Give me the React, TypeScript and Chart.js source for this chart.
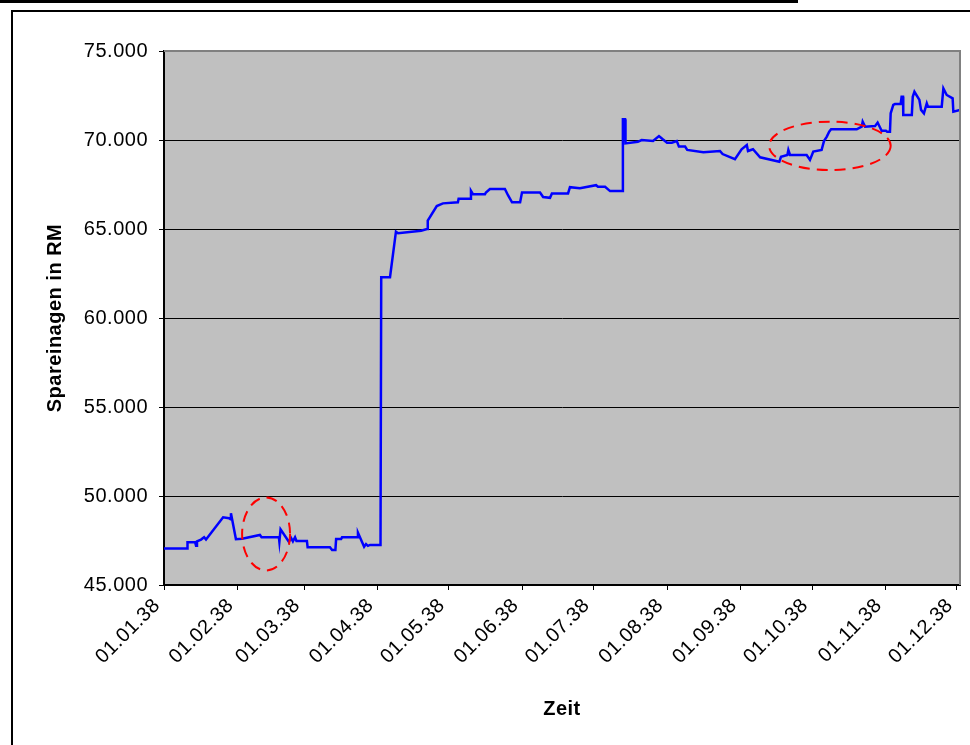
import React, { useEffect, useRef } from "react";
import { Chart, registerables } from "chart.js";

Chart.register(...registerables);

// Day of year 1938 (0 = 01.01.38)
const days: number[] = [
  0, 9.7, 9.9, 13.1, 13.5, 13.9, 15.6, 16.9, 17.7, 24.9, 27.4, 28.0, 28.2, 30.3, 32.9, 40.4, 41.1,
  48.4, 48.6, 49.1, 52.6, 53.5, 54.3, 55.2, 55.8, 60.2, 60.5, 69.9, 70.8, 72.2, 72.5, 74.6, 75.0,
  81.5, 81.7, 84.3, 85.1, 85.9, 86.8, 91.2, 91.5, 95.2, 97.7, 98.6, 108.3, 110.8, 111.1, 114.9,
  117.5, 123.8, 124.1, 128.9, 129.3, 130.2, 135.2, 135.6, 137.3, 143.6, 144.9, 146.6, 150.0, 150.8,
  158.4, 159.7, 162.6, 163.4, 170.2, 171.0, 175.2, 182.0, 182.8, 185.8, 187.9, 193.0, 193.3, 194.2,
  194.4, 199.6, 201.2, 206.0, 208.5, 210.1, 211.9, 213.9, 216.0, 216.9, 219.5, 220.4, 227.2, 234.2,
  235.3, 240.5, 243.3, 245.5, 246.0, 248.1, 251.1, 259.2, 259.9, 262.6, 263.0, 263.7, 270.7, 272.1,
  273.5, 277.0, 278.0, 279.2, 280.2, 281.0, 291.8, 293.9, 294.3, 295.3, 299.5, 300.6, 302.3, 304.1,
  304.6, 305.8, 306.1, 307.2, 307.9, 310.3, 310.7, 311.3, 311.4, 315.0, 315.4, 316.1, 318.2, 318.9,
  320.1, 321.3, 321.8, 327.6, 328.3, 329.7, 332.2, 332.5, 335.3,
];

// Spareinlagen in RM
const savings: number[] = [
  47050, 47050, 47400, 47400, 47200, 47450, 47550, 47680, 47550, 48800, 48750, 48700, 49030, 47570, 47600, 47810, 47680,
  47680, 47430, 48130, 47430, 47650, 47450, 47680, 47470, 47470, 47120, 47120, 46970, 46970, 47580, 47580, 47680,
  47680, 47940, 47150, 47300, 47200, 47250, 47250, 62290, 62290, 64850, 64760, 64900, 65000, 65470, 66290,
  66440, 66500, 66700, 66700, 67150, 66950, 66950, 67050, 67250, 67250, 66900, 66500, 66500, 67050,
  67050, 66800, 66750, 67000, 67000, 67350, 67290, 67460, 67370, 67370, 67130, 67130, 71160, 71160,
  69810, 69900, 70000, 69940, 70220, 70040, 69850, 69850, 69940, 69630, 69630, 69440, 69310, 69380,
  69210, 68920, 69480, 69720, 69380, 69480, 69030, 68780, 69060, 69160, 69440, 69160, 69160, 68880,
  69350, 69440, 69940, 70190, 70470, 70600, 70600, 70750, 71030, 70750, 70780, 70980, 70520, 70520,
  70470, 70470, 71500, 71970, 72020, 72020, 72430, 72430, 71400, 71400, 72430, 72710, 72250, 71690,
  71500, 72060, 71870, 71870, 72900, 72530, 72340, 71590, 71690,
];

const monthDays: number[] = [0, 31, 59, 90, 120, 151, 181, 212, 243, 273, 304, 334];
const monthLabels: string[] = [
  "01.01.38", "01.02.38", "01.03.38", "01.04.38", "01.05.38", "01.06.38",
  "01.07.38", "01.08.38", "01.09.38", "01.10.38", "01.11.38", "01.12.38",
];
const yTicks: number[] = [45000, 50000, 55000, 60000, 65000, 70000, 75000];

// highlighted regions: [centerDay, centerValue, radiusDays, radiusValue]
const highlight1: number[] = [43.0, 47870, 10.1, 2050];
const highlight2: number[] = [280.5, 69670, 25.6, 1360];

const FONT = "'Liberation Sans', Arial, sans-serif";

const setSpacing = (chart: any) => {
  try {
    chart.ctx.letterSpacing = "0.5px";
  } catch (e) {}
};

const framePlugin = {
  id: "frame",
  beforeLayout(chart: any) {
    setSpacing(chart);
  },
  beforeDraw(chart: any) {
    const { ctx, chartArea } = chart;
    setSpacing(chart);
    ctx.save();
    ctx.fillStyle = "#ffffff";
    ctx.fillRect(0, 0, chart.width, chart.height);
    ctx.fillStyle = "#000000";
    ctx.fillRect(0, 0, 798, 3);
    ctx.strokeStyle = "#000000";
    ctx.lineWidth = 2;
    ctx.strokeRect(12, 11, chart.width + 20, chart.height + 20);
    ctx.fillStyle = "#C0C0C0";
    ctx.fillRect(chartArea.left, chartArea.top, chartArea.right - chartArea.left, chartArea.bottom - chartArea.top);
    ctx.restore();
  },
  afterDatasetsDraw(chart: any) {
    const { ctx, chartArea, scales } = chart;
    const xs = scales.x;
    const ys = scales.y;
    ctx.save();
    ctx.strokeStyle = "#808080";
    ctx.lineWidth = 2;
    ctx.beginPath();
    ctx.moveTo(chartArea.left, chartArea.top);
    ctx.lineTo(chartArea.right, chartArea.top);
    ctx.lineTo(chartArea.right, chartArea.bottom);
    ctx.stroke();
    ctx.strokeStyle = "#FF0000";
    ctx.lineWidth = 2;
    ctx.setLineDash([11, 7]);
    for (const h of [highlight1, highlight2]) {
      const cx = xs.getPixelForValue(h[0]);
      const cy = ys.getPixelForValue(h[1]);
      const rx = Math.abs(xs.getPixelForValue(h[0] + h[2]) - cx);
      const ry = Math.abs(ys.getPixelForValue(h[1] + h[3]) - cy);
      ctx.beginPath();
      ctx.ellipse(cx, cy, rx, ry, 0, 0, Math.PI * 2);
      ctx.stroke();
    }
    ctx.restore();
  },
};

export default function App() {
  const ref = useRef<HTMLCanvasElement | null>(null);
  useEffect(() => {
    if (!ref.current) return;
    const chart = new Chart(ref.current, {
      type: "line",
      data: {
        datasets: [
          {
            data: days.map((d, i) => ({ x: d, y: savings[i] })),
            borderColor: "#0000FF",
            borderWidth: 2.5,
            pointRadius: 0,
            tension: 0,
            fill: false,
          },
        ],
      },
      options: {
        animation: false,
        responsive: false,
        maintainAspectRatio: false,
        layout: { padding: { left: 0, top: 51, right: 10, bottom: 0 } },
        plugins: { legend: { display: false }, tooltip: { enabled: false } },
        scales: {
          x: {
            type: "linear",
            min: 0,
            max: 335.3,
            afterBuildTicks: (s: any) => {
              s.ticks = monthDays.map((v) => ({ value: v }));
            },
            afterFit: (s: any) => {
              s.height = 160;
              s.paddingLeft = 0;
              s.paddingRight = 0;
            },
            ticks: {
              autoSkip: false,
              maxRotation: 45,
              minRotation: 45,
              padding: 4,
              labelOffset: -7,
              color: "#000000",
              font: { family: FONT, size: 20 },
              callback: (v: any) => {
                const i = monthDays.indexOf(Number(v));
                return i >= 0 ? monthLabels[i] : "";
              },
            },
            grid: { drawOnChartArea: false, drawTicks: true, tickLength: 5, color: "#000000", lineWidth: 1 },
            border: { display: true, color: "#000000", width: 2 },
            title: {
              display: true,
              text: "Zeit",
              color: "#000000",
              font: { family: FONT, size: 20, weight: "bold" },
              padding: { top: 0, bottom: 24 },
            },
          },
          y: {
            type: "linear",
            min: 45000,
            max: 75000,
            afterBuildTicks: (s: any) => {
              s.ticks = yTicks.map((v) => ({ value: v }));
            },
            afterFit: (s: any) => {
              s.width = 164;
            },
            ticks: {
              padding: 11,
              color: "#000000",
              font: { family: FONT, size: 20 },
              callback: (v: any) => `${Math.round(Number(v) / 1000)}.000`,
            },
            grid: { color: "#000000", lineWidth: 1, tickLength: 5, drawTicks: true },
            border: { display: true, color: "#000000", width: 2 },
            title: {
              display: true,
              text: "Spareinagen in RM",
              color: "#000000",
              font: { family: FONT, size: 20, weight: "bold" },
              padding: { top: 43, bottom: 0 },
            },
          },
        },
      },
      plugins: [framePlugin],
    });
    return () => chart.destroy();
  }, []);
  return (
    <div style={{ position: "fixed", left: 0, top: 0, width: 970, height: 745 }}>
      <canvas ref={ref} width={970} height={745} style={{ width: 970, height: 745, display: "block" }} />
    </div>
  );
}
